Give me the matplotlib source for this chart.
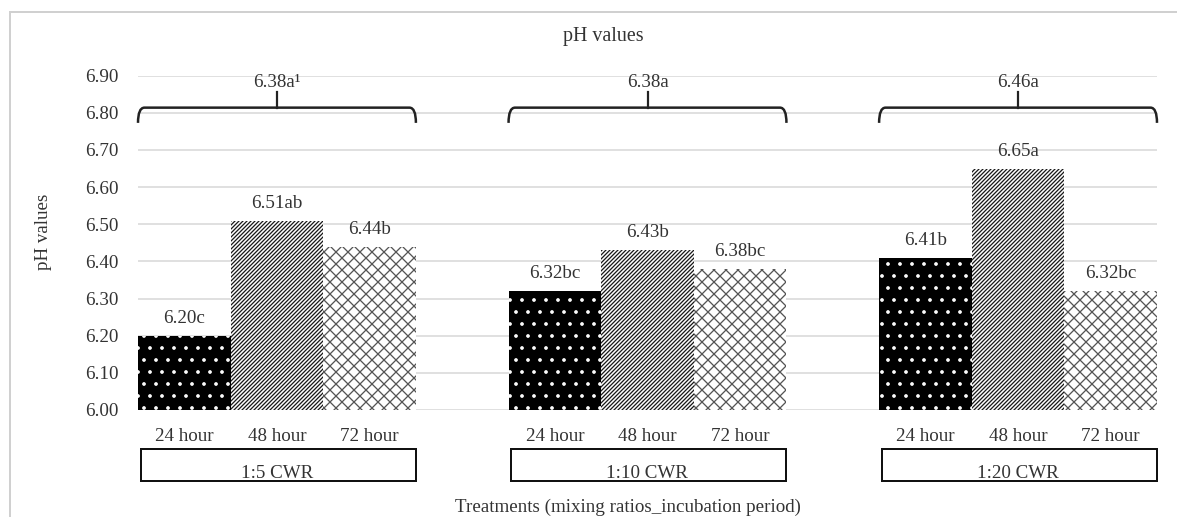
import numpy as np
import matplotlib.pyplot as plt
from matplotlib.patches import Rectangle, PathPatch
from matplotlib.path import Path
from matplotlib.lines import Line2D

groups = ['1:5 CWR', '1:10 CWR', '1:20 CWR']
periods = ['24 hour', '48 hour', '72 hour']
ph_24 = [6.20, 6.32, 6.41]
ph_48 = [6.51, 6.43, 6.65]
ph_72 = [6.44, 6.38, 6.32]
letters_24 = ['c', 'bc', 'b']
letters_48 = ['ab', 'b', 'a']
letters_72 = ['b', 'bc', 'bc']
group_means = [6.38, 6.38, 6.46]
group_letters = ['a\u00b9', 'a', 'a']

plt.rcParams['font.family'] = ['Liberation Serif', 'DejaVu Serif']
plt.rcParams['hatch.linewidth'] = 1.3

W, H = 1177, 517
fig = plt.figure(figsize=(W / 72, H / 72), dpi=72)
ax = fig.add_axes([138 / W, 1 - 410 / H, (1157 - 138) / W, (410 - 75.7) / H])

styles = [
    dict(facecolor='black', edgecolor='white', hatch='.'),
    dict(facecolor='white', edgecolor='#1a1a1a', hatch='//////'),
    dict(facecolor='white', edgecolor='#555555', hatch='xx'),
]
series = [ph_24, ph_48, ph_72]
letters = [letters_24, letters_48, letters_72]

xs_all, xl_all = [], []
for j in range(3):
    xs = [g * 4 + j for g in range(len(groups))]
    bars = ax.bar(xs, np.array(series[j]) - 6.0, bottom=6.0, width=1.0,
                  linewidth=0, zorder=2, **styles[j])
    for x, v, l in zip(xs, series[j], letters[j]):
        ax.annotate(f'{v:.2f}{l}', (x, v), xytext=(0, 9), textcoords='offset points',
                    ha='center', va='bottom', fontsize=19, color='#333333')
    xs_all += xs
    xl_all += [periods[j]] * len(groups)

ax.set_xlim(-0.5, 10.5)
ax.set_ylim(6.0, 6.9)
ax.set_yticks(np.arange(6.0, 6.91, 0.1))
ax.set_yticklabels([f'{t:.2f}' for t in np.arange(6.0, 6.91, 0.1)])
ax.set_xticks(xs_all)
ax.set_xticklabels(xl_all)
ax.tick_params(axis='both', length=0, labelsize=19, labelcolor='#333333')
ax.tick_params(axis='x', pad=18)
ax.tick_params(axis='y', pad=19)
ax.grid(axis='y', color='#d9d9d9', linewidth=1.6, zorder=0)
ax.set_axisbelow(True)
for s in ax.spines.values():
    s.set_visible(False)

# braces with group means, and boxes with group names
y_h, y_end, y_top = 6.814, 6.773, 6.856
tr = ax.get_xaxis_transform()
for g, name in enumerate(groups):
    left, right = g * 4 - 0.5, g * 4 + 2.5
    mid = (left + right) / 2
    d = 0.07
    verts = [(left, y_end), (left, y_h), (left + d, y_h), (right - d, y_h),
             (right, y_h), (right, y_end)]
    codes = [Path.MOVETO, Path.CURVE3, Path.CURVE3, Path.LINETO, Path.CURVE3, Path.CURVE3]
    ax.add_patch(PathPatch(Path(verts, codes), facecolor='none', edgecolor='#222222',
                           linewidth=2.5, clip_on=False, zorder=4))
    ax.plot([mid, mid], [y_h, y_top], color='#222222', linewidth=2.2, clip_on=False, zorder=4)
    ax.text(mid, 6.883, f'{group_means[g]:.2f}{group_letters[g]}', ha='center', va='center',
            fontsize=19, color='#333333', zorder=5)

    ax.add_patch(Rectangle((left + 0.03, -0.2124), right - left - 0.03, 0.0957, transform=tr,
                           facecolor='white', edgecolor='#111111', linewidth=2, clip_on=False))
    ax.text(mid, -0.19, name, transform=tr, ha='center', va='center', fontsize=19, color='#333333')

fig.text(603 / W, 1 - 36 / H, 'pH values', ha='center', va='center', fontsize=20, color='#333333')
fig.text(44 / W, 1 - 232 / H, 'pH values', ha='center', va='center', rotation=90,
         fontsize=19, color='#333333')
fig.text(628 / W, 1 - 507 / H, 'Treatments (mixing ratios_incubation period)', ha='center',
         va='center', fontsize=19, color='#333333')

# outer chart border
fig.add_artist(Line2D([10 / W, 10 / W], [0, 1 - 12 / H], color='#d0d0d0', linewidth=2))
fig.add_artist(Line2D([10 / W, 1], [1 - 12 / H, 1 - 12 / H], color='#d0d0d0', linewidth=2))

fig.savefig('out.png', dpi=72)
